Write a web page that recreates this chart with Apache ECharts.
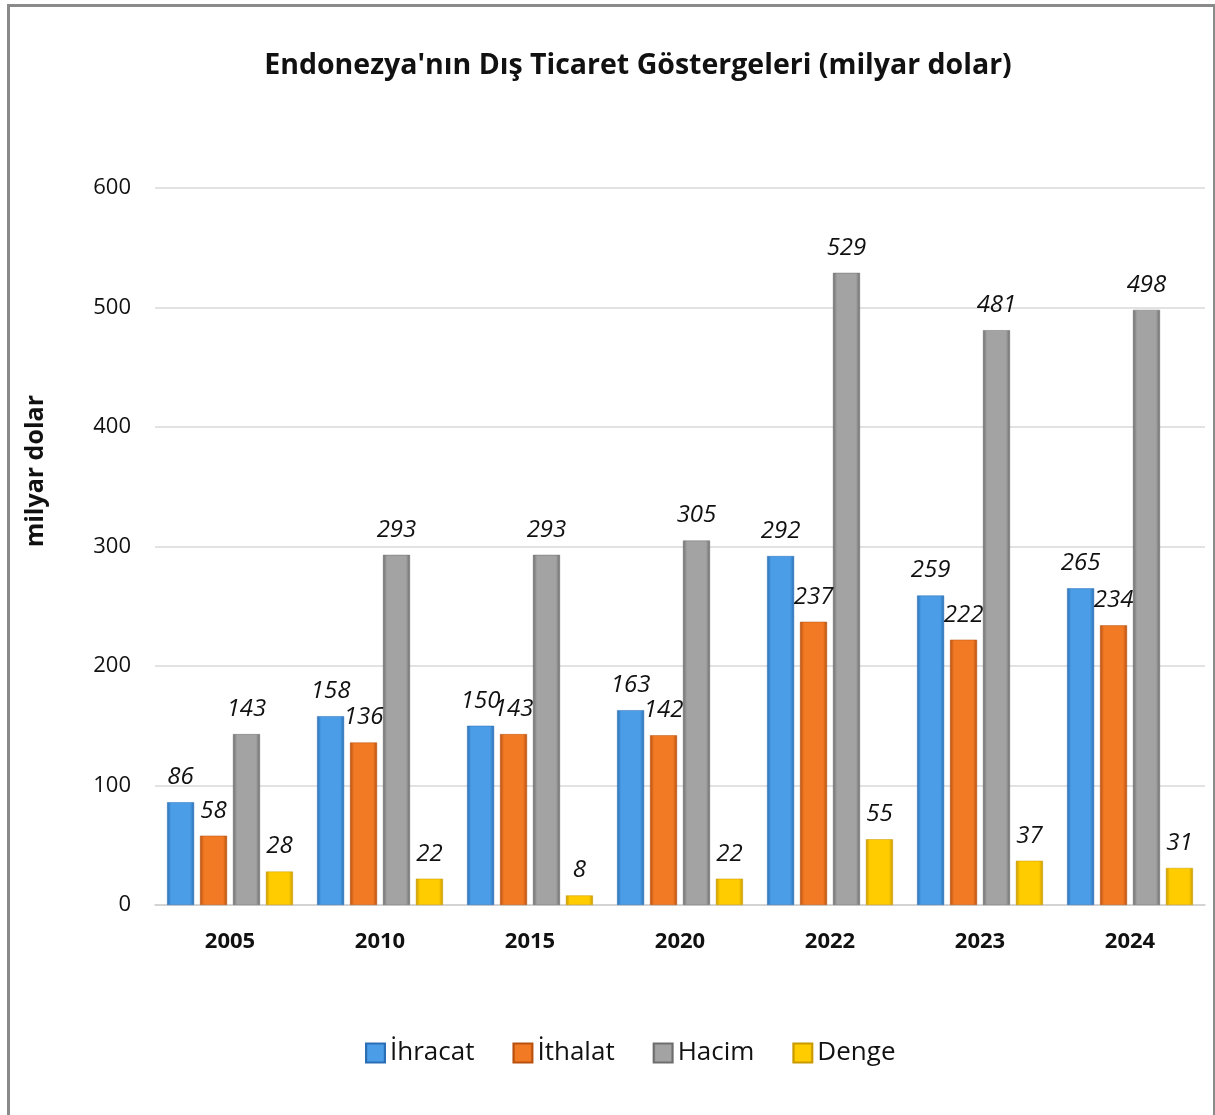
<!DOCTYPE html>
<html>
<head>
<meta charset="utf-8">
<script src="https://cdn.jsdelivr.net/npm/echarts@6/dist/echarts.min.js"></script>
<style>
  html, body { margin: 0; padding: 0; background: #fff; }
  #chart { width: 1215px; height: 1115px; }
  #frame {
    position: absolute; left: 7px; top: 4px; width: 1203px; height: 1200px;
    border: 3px solid #8a8a8a; pointer-events: none;
  }
</style>
</head>
<body>
<div id="chart"></div>
<div id="frame"></div>
<script>
const years = ["2005", "2010", "2015", "2020", "2022", "2023", "2024"];
const ihracat = [86, 158, 150, 163, 292, 259, 265];
const ithalat = [58, 136, 143, 142, 237, 222, 234];
const hacim = [143, 293, 293, 305, 529, 481, 498];
const denge = [28, 22, 8, 22, 55, 37, 31];

const font = "'Open Sans', 'Noto Sans', sans-serif";

// beveled look: dark edges, lighter middle
const bevel = (edge, mid) =>
  new echarts.graphic.LinearGradient(0, 0, 1, 0, [
    { offset: 0, color: edge },
    { offset: 0.15, color: mid },
    { offset: 0.85, color: mid },
    { offset: 1, color: edge },
  ]);

const makeSeries = (name, data, edge, mid) => ({
  name,
  type: "bar",
  barWidth: 27,
  barGap: "22%",
  data,
  itemStyle: { color: bevel(edge, mid), borderColor: edge, borderWidth: 0.5 },
  label: {
    show: true,
    position: "top",
    distance: 13,
    fontFamily: font,
    fontStyle: "italic",
    fontSize: 24,
    color: "#111",
  },
});

const chart = echarts.init(document.getElementById("chart"));
chart.setOption({
  backgroundColor: "#fff",
  animation: false,
  title: {
    text: "Endonezya'nın Dış Ticaret Göstergeleri (milyar dolar)",
    left: 633,
    textAlign: "center",
    top: 46,
    textStyle: { fontFamily: font, fontWeight: "bold", fontSize: 28.5, color: "#111" },
  },
  legend: {
    bottom: 44,
    left: 360,
    icon: "rect",
    itemWidth: 19,
    itemHeight: 19,
    itemGap: 38,
    textStyle: { fontFamily: font, fontSize: 26, color: "#111" },
    data: ["İhracat", "İthalat", "Hacim", "Denge"],
  },
  graphic: [
    {
      type: "text",
      left: 23,
      top: 395,
      rotation: Math.PI / 2,
      style: {
        text: "milyar dolar",
        fontFamily: font,
        fontWeight: "bold",
        fontSize: 25,
        fill: "#111",
      },
    },
  ],
  grid: { left: 155, right: 10, top: 188, bottom: 210 },
  xAxis: {
    type: "category",
    data: years,
    axisTick: { show: false },
    axisLine: { lineStyle: { color: "#d0d0d0", width: 1.5 } },
    axisLabel: { fontFamily: font, fontWeight: "bold", fontSize: 22, color: "#111", margin: 26 },
  },
  yAxis: {
    type: "value",
    min: 0,
    max: 600,
    interval: 100,
    axisLabel: { fontFamily: font, fontSize: 22, color: "#111", margin: 24 },
    axisLine: { show: false },
    axisTick: { show: false },
    splitLine: { lineStyle: { color: "#d9d9d9", width: 1.5 } },
  },
  series: [
    makeSeries("İhracat", ihracat, "#2a6fb5", "#4a9de6"),
    makeSeries("İthalat", ithalat, "#b8500e", "#f27a24"),
    makeSeries("Hacim", hacim, "#6e6e6e", "#a3a3a3"),
    makeSeries("Denge", denge, "#c99a00", "#ffcc00"),
  ],
});
</script>
</body>
</html>
